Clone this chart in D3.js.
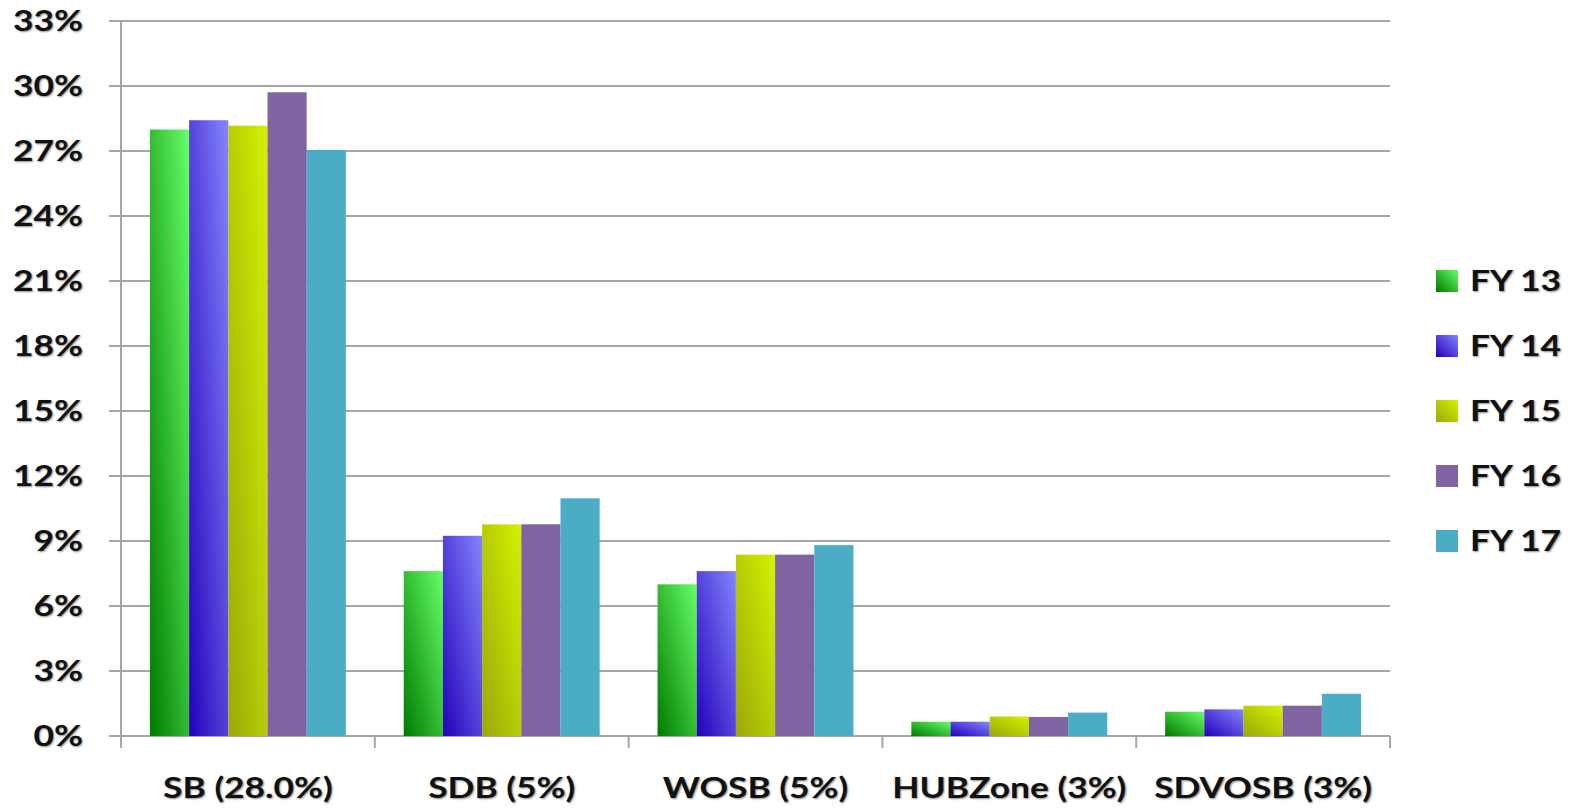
<!DOCTYPE html>
<html lang="en">
<head>
    <meta charset="UTF-8">
    <title>Small business goaling by fiscal year</title>
    <script src="https://d3js.org/d3.v7.min.js"></script>
    <style>
        body { margin: 0; background: #fff; }
        svg { display: block; }
        .lbl {
            font-family: Lato, "Open Sans", sans-serif;
            font-weight: bold;
            font-size: 29px;
            fill: #111;
            text-shadow: 1px 1px 2px rgba(0,0,0,0.45);
        }
        .grid line { stroke: #a6a6a6; stroke-width: 2; }
    </style>
</head>
<body>
<svg id="chart" width="1574" height="811"></svg>
<script>
    // categories and series
    const categories = ["SB (28.0%)", "SDB (5%)", "WOSB (5%)", "HUBZone (3%)", "SDVOSB (3%)"];
    const years = ["FY 13", "FY 14", "FY 15", "FY 16", "FY 17"];
    const fy13 = [27.99, 7.61, 7.0, 0.66, 1.12];
    const fy14 = [28.42, 9.24, 7.61, 0.66, 1.23];
    const fy15 = [28.17, 9.77, 8.37, 0.9, 1.4];
    const fy16 = [29.71, 9.77, 8.37, 0.88, 1.4];
    const fy17 = [27.05, 10.97, 8.81, 1.08, 1.95];
    const yTicks = [0, 3, 6, 9, 12, 15, 18, 21, 24, 27, 30, 33];

    const seriesValues = [fy13, fy14, fy15, fy16, fy17];
    // [dark bottom-left, light top-right]
    const palette = [
        ["#007a00", "#66ff66"],
        ["#2200b8", "#8585ff"],
        ["#9aa80a", "#d4f200"],
        ["#8064a2", "#8064a2"],
        ["#4bacc6", "#4bacc6"]
    ];
    const stretch = 1.22; // the original labels are drawn a bit wide

    const svg = d3.select("#chart");
    const margin = { top: 21, left: 121, right: 184, bottom: 75 };
    const width = 1574 - margin.left - margin.right,
          height = 811 - margin.top - margin.bottom;

    const x0 = d3.scaleBand().domain(categories).range([0, width]).padding(0);
    const x1 = d3.scaleBand().domain(years)
        .range([x0.bandwidth() * 0.114, x0.bandwidth() * 0.886]).padding(0);
    const y = d3.scaleLinear().domain([0, 33]).range([height, 0]);

    const defs = svg.append("defs");
    palette.forEach((c, i) => {
        const g = defs.append("linearGradient")
            .attr("id", "grad" + i)
            .attr("x1", "0%").attr("y1", "100%")
            .attr("x2", "100%").attr("y2", "0%");
        g.append("stop").attr("offset", "0%").attr("stop-color", c[0]);
        g.append("stop").attr("offset", "100%").attr("stop-color", c[1]);
    });

    // places a wide label at (px, py)
    function label(parent, px, py, txt, anchor) {
        parent.append("g")
            .attr("transform", "translate(" + px + "," + py + ") scale(" + stretch + ",1)")
            .append("text")
            .attr("class", "lbl")
            .attr("text-anchor", anchor)
            .text(txt);
    }

    const g = svg.append("g").attr("transform", "translate(" + margin.left + "," + margin.top + ")");

    // gridlines
    g.append("g").attr("class", "grid")
        .selectAll("line").data(yTicks).enter().append("line")
        .attr("x1", -12).attr("x2", width)
        .attr("y1", d => y(d)).attr("y2", d => y(d));

    // y axis line
    g.append("line")
        .attr("x1", 0).attr("x2", 0).attr("y1", 0).attr("y2", height + 12)
        .attr("stroke", "#a6a6a6").attr("stroke-width", 2);

    // x ticks between categories
    const xEdges = categories.map(c => x0(c)).concat([width]);
    g.append("g").selectAll("line").data(xEdges).enter().append("line")
        .attr("x1", d => d).attr("x2", d => d)
        .attr("y1", height).attr("y2", height + 12)
        .attr("stroke", "#a6a6a6").attr("stroke-width", 2);

    // y labels
    const yl = g.append("g");
    yTicks.forEach(t => label(yl, -38, y(t) + 10, t + "%", "end"));

    // bars
    years.forEach((yr, s) => {
        g.append("g").selectAll("rect")
            .data(categories.map((c, i) => ({ cat: c, v: seriesValues[s][i] })))
            .enter().append("rect")
            .attr("x", d => x0(d.cat) + x1(yr))
            .attr("width", x1.bandwidth())
            .attr("y", d => y(d.v))
            .attr("height", d => height - y(d.v))
            .attr("fill", "url(#grad" + s + ")");
    });

    // x labels
    const xl = g.append("g");
    categories.forEach(c => label(xl, x0(c) + x0.bandwidth() / 2, height + 62, c, "middle"));

    // legend
    const legend = svg.append("g").attr("transform", "translate(1436,270)");
    years.forEach((yr, i) => {
        const row = legend.append("g").attr("transform", "translate(0," + (i * 65) + ")");
        row.append("rect").attr("width", 22).attr("height", 22)
            .attr("fill", "url(#grad" + i + ")");
        label(row, 34, 21, yr, "start");
    });
</script>
</body>
</html>
